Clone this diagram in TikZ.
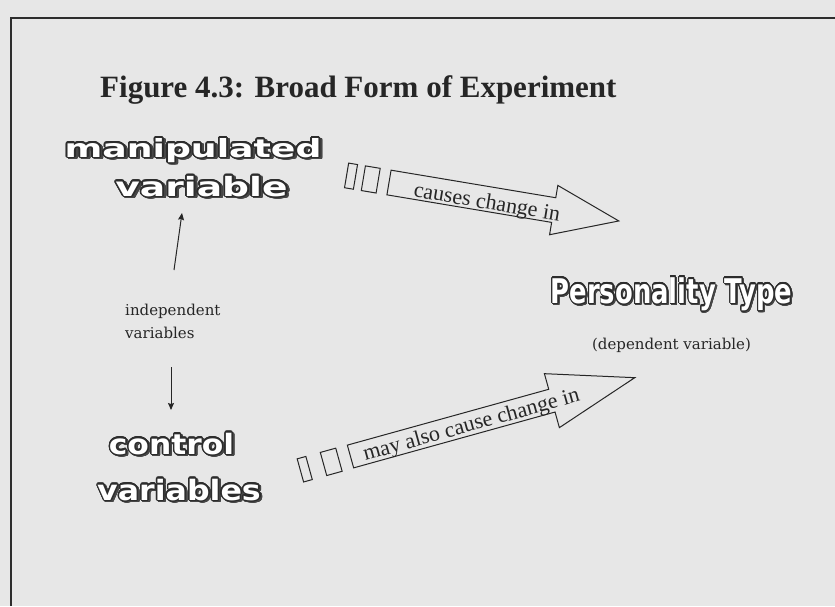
\documentclass[tikz,border=0pt]{standalone}
\usepackage{fontspec}
\usepackage{graphicx}
\usepackage{contour}
\setmainfont{Liberation Serif}
\newfontfamily\hollowfont{DejaVu Sans}
\newfontfamily\notefont{DejaVu Serif}
\usetikzlibrary{arrows.meta}

\definecolor{paper}{RGB}{231,231,231}
\definecolor{ink}{RGB}{38,38,38}
\definecolor{rimc}{RGB}{45,45,45}
\definecolor{shadec}{RGB}{70,70,70}

\contourlength{1.2pt}
\contournumber{24}

% hollow lettering: white letters with a dark rim and a small drop shadow
% #1 horizontal stretch, #2 font size, #3 text
\newcommand\hollowword[3][1]{{\hollowfont\bfseries\fontsize{#2}{#2}\selectfont
  \scalebox{#1}[1]{%
    \makebox[0pt][l]{\hspace{1.5pt}\raisebox{-1.5pt}{\color{shadec}\contour{shadec}{#3}}}%
    {\color{white}\contour{rimc}{#3}}}}}

\tikzset{
  hollow/.style={inner sep=0pt, anchor=base},
  note/.style={inner sep=0pt, text=ink, font=\notefont\fontsize{15}{23}\selectfont},
  arrowtext/.style={inner sep=0pt, anchor=base, text=ink, font=\fontsize{22}{22}\selectfont},
  blockline/.style={draw=ink, line width=1pt, line join=miter},
  smallarrow/.style={draw=ink, line width=1pt, -{Stealth[length=7pt,width=6pt,inset=1pt]}},
  frame/.style={draw=rimc, line width=1.5pt}
}

\begin{document}
\begin{tikzpicture}[x=1pt, y=-1pt]
  \fill[paper] (0,0) rectangle (835,606);
  \useasboundingbox (0,0) rectangle (835,606);

  % frame, open to the right and bottom
  \draw[frame] (11,606) -- (11,18) -- (835,18);

  % title
  \node[inner sep=0pt, anchor=base west, text=ink, font=\bfseries\fontsize{31}{31}\selectfont]
    (title) at (100,97) {Figure 4.3: Broad Form of Experiment};

  % variables
  \node[hollow] (manip) at (193,157) {\hollowword[1.45]{25}{manipulated}};
  \node[hollow] (manipb) at (201.5,196) {\hollowword[1.42]{26.5}{variable}};
  \node[hollow] (ctrl) at (171.5,454) {\hollowword[1.12]{28}{control}};
  \node[hollow] (ctrlb) at (179,500) {\hollowword[1.13]{28}{variables}};
  \node[hollow] (ptype) at (671.5,303) {\hollowword[0.76]{34}{Personality Type}};

  \node[note, anchor=base] (dep) at (671.5,349) {(dependent variable)};
  \node[note, anchor=base west, align=left] (indep) at (125,338) {independent\\variables};

  % links from the independent variables label
  \coordinate (upfrom) at (174,270);
  \coordinate (upto) at (182,213);
  \coordinate (downfrom) at (171,367);
  \coordinate (downto) at (171,410);
  \draw[smallarrow] (upfrom) -- (upto);
  \draw[smallarrow] (downfrom) -- (downto);

  % striped block arrow: manipulated variable -> personality type
  \begin{scope}[shift={(389,182.5)}, rotate=-9.5]
    \draw[blockline] (0,-12.5) -- (167,-12.5) -- (167,-25) -- (233,0)
      -- (167,25) -- (167,12.5) -- (0,12.5) -- cycle;
    \draw[blockline] (-43,-12.5) rectangle (-34,12.5);
    \draw[blockline] (-26,-12.5) rectangle (-11,12.5);
    \node[arrowtext, rotate=-9.5] (causes) at (100,10) {causes change in};
  \end{scope}

  % striped block arrow: control variables -> personality type
  \begin{scope}[shift={(350.5,456.5)}, rotate=15.5]
    \draw[blockline] (0,-11.8) -- (209,-11.8) -- (209,-28) -- (295,0)
      -- (209,28) -- (209,11.8) -- (0,11.8) -- cycle;
    \draw[blockline] (-52,-12) rectangle (-43,12);
    \draw[blockline] (-28,-12) rectangle (-12,12);
    \node[arrowtext, rotate=15.5] (maycause) at (125,8) {may also cause change in};
  \end{scope}
\end{tikzpicture}
\end{document}
